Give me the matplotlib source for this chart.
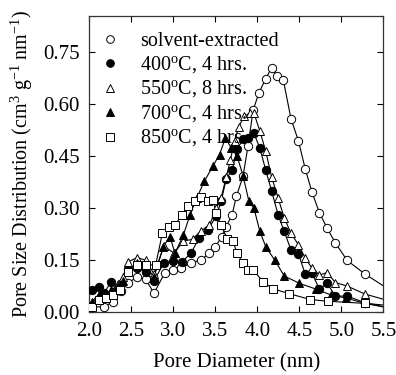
import matplotlib
matplotlib.use("Agg")
import matplotlib.pyplot as plt

plt.rcParams['font.family'] = ['Liberation Serif', 'DejaVu Serif']
plt.rcParams['mathtext.fontset'] = 'custom'
plt.rcParams['mathtext.rm'] = 'Liberation Serif'

# solvent-extracted (open circles)
x_se = [2.03, 2.18, 2.28, 2.38, 2.46, 2.57, 2.67, 2.77, 2.90, 3.00, 3.09, 3.21,
        3.33, 3.43, 3.50, 3.58, 3.63, 3.70, 3.75, 3.83, 3.89, 3.95, 4.02, 4.10,
        4.17, 4.24, 4.31, 4.40, 4.49, 4.57, 4.65, 4.74, 4.83, 4.93, 5.07, 5.28, 5.60]
y_se = [0.015, 0.015, 0.03, 0.06, 0.085, 0.100, 0.095, 0.054, 0.114, 0.12, 0.127, 0.141,
        0.151, 0.170, 0.189, 0.218, 0.247, 0.281, 0.334, 0.392, 0.481, 0.583, 0.634, 0.674,
        0.706, 0.682, 0.670, 0.559, 0.494, 0.414, 0.347, 0.286, 0.243, 0.199, 0.149, 0.110, 0.06]

# 400 C, 4 hrs (filled circles)
x_400 = [2.03, 2.11, 2.18, 2.26, 2.34, 2.38, 2.46, 2.57, 2.67, 2.77, 2.89, 3.00, 3.10,
         3.21, 3.31, 3.41, 3.51, 3.57, 3.63, 3.70, 3.76, 3.83, 3.89, 3.96, 4.03, 4.10,
         4.17, 4.25, 4.32, 4.40, 4.49, 4.57, 4.65, 4.74, 4.83, 4.93, 5.07, 5.28, 5.60]
y_400 = [0.065, 0.072, 0.056, 0.088, 0.069, 0.08, 0.125, 0.127, 0.117, 0.09, 0.143, 0.146, 0.144,
         0.17, 0.215, 0.238, 0.276, 0.32, 0.385, 0.41, 0.47, 0.50, 0.503, 0.516, 0.474, 0.41,
         0.35, 0.279, 0.233, 0.18, 0.168, 0.109, 0.112, 0.066, 0.083, 0.046, 0.046, 0.027, 0.01]

# 550 C, 8 hrs (open triangles)
x_550 = [2.03, 2.11, 2.18, 2.26, 2.34, 2.40, 2.46, 2.57, 2.67, 2.77, 2.89, 3.01, 3.12,
         3.23, 3.33, 3.43, 3.51, 3.57, 3.63, 3.68, 3.73, 3.78, 3.84, 3.91, 3.96, 4.03,
         4.10, 4.17, 4.25, 4.32, 4.40, 4.49, 4.57, 4.65, 4.74, 4.83, 4.93, 5.07, 5.28, 5.60]
y_550 = [0.025, 0.045, 0.05, 0.06, 0.08, 0.10, 0.145, 0.157, 0.150, 0.11, 0.19, 0.17, 0.205,
         0.21, 0.235, 0.25, 0.30, 0.33, 0.39, 0.44, 0.495, 0.535, 0.565, 0.575, 0.575, 0.523,
         0.465, 0.39, 0.328, 0.272, 0.228, 0.194, 0.156, 0.127, 0.107, 0.114, 0.085, 0.075, 0.052, 0.03]

# 700 C, 4 hrs (filled triangles)
x_700 = [2.03, 2.11, 2.18, 2.26, 2.34, 2.40, 2.46, 2.57, 2.67, 2.77, 2.88, 2.96, 3.02,
         3.12, 3.20, 3.28, 3.37, 3.47, 3.55, 3.62, 3.69, 3.76, 3.83, 3.90, 3.96, 4.03,
         4.10, 4.21, 4.32, 4.50, 4.70, 4.88, 5.06, 5.28, 5.60]
y_700 = [0.03, 0.05, 0.045, 0.065, 0.075, 0.09, 0.122, 0.141, 0.135, 0.10, 0.189, 0.218, 0.17,
         0.223, 0.281, 0.33, 0.378, 0.421, 0.455, 0.503, 0.474, 0.45, 0.394, 0.32, 0.30, 0.233,
         0.189, 0.149, 0.104, 0.083, 0.066, 0.049, 0.04, 0.025, 0.01]

# 850 C, 4 hrs (open squares)
x_850 = [2.03, 2.12, 2.20, 2.28, 2.36, 2.46, 2.57, 2.67, 2.79, 2.87, 2.95, 3.02, 3.10,
         3.18, 3.26, 3.33, 3.41, 3.47, 3.51, 3.57, 3.64, 3.71, 3.76, 3.83, 3.89, 3.95,
         4.07, 4.19, 4.38, 4.63, 4.84, 5.28, 5.60]
y_850 = [0.015, 0.035, 0.04, 0.05, 0.064, 0.117, 0.136, 0.136, 0.136, 0.228, 0.247, 0.25, 0.281,
         0.305, 0.32, 0.332, 0.32, 0.325, 0.286, 0.25, 0.212, 0.204, 0.17, 0.141, 0.122, 0.122,
         0.087, 0.067, 0.053, 0.036, 0.031, 0.025, 0.018]

labels = ['solvent-extracted', r'400$^{\rm o}$C, 4 hrs.', r'550$^{\rm o}$C, 8 hrs.',
          r'700$^{\rm o}$C, 4 hrs.', r'850$^{\rm o}$C, 4 hrs.']

fig = plt.figure(figsize=(3.96, 3.75), dpi=100)
ax = fig.add_axes([0.2255, 0.168, 0.7425, 0.789])

series = [
    (x_se, y_se, 'o', 'white'),
    (x_400, y_400, 'o', 'black'),
    (x_550, y_550, '^', 'white'),
    (x_700, y_700, '^', 'black'),
    (x_850, y_850, 's', 'white'),
]
handles = []
for (xs, ys, m, fc), lab in zip(series, labels):
    ax.plot(xs, ys, '-', color='black', lw=0.8, zorder=2)
    ax.plot(xs, ys, ls='none', marker=m, ms=6, mfc=fc, mec='black', mew=0.7, zorder=3)
    h, = ax.plot([], [], ls='none', marker=m, ms=5.5, mfc=fc, mec='black', mew=0.7)
    handles.append(h)

ax.set_xlim(2.0, 5.5)
ax.set_ylim(0, 0.855)
ax.set_xticks([2.0, 2.5, 3.0, 3.5, 4.0, 4.5, 5.0, 5.5])
ax.set_yticks([0.0, 0.15, 0.30, 0.45, 0.60, 0.75])
ax.set_xticklabels(['2.0', '2.5', '3.0', '3.5', '4.0', '4.5', '5.0', '5.5'])
ax.set_yticklabels(['0.00', '0.15', '0.30', '0.45', '0.60', '0.75'])
ax.tick_params(direction='in', top=True, right=True, length=4, width=0.8,
               labelsize=15, pad=7)
for s in ax.spines.values():
    s.set_linewidth(0.9)
    s.set_color('#333333')

ax.set_xlabel('Pore Diameter (nm)', fontsize=15, labelpad=9)
ax.set_ylabel(r'Pore Size Distribution (cm$^{3}$ g$^{-1}$ nm$^{-1}$)', fontsize=14.5, labelpad=6)

ax.legend(handles, labels, loc='upper left', frameon=False, fontsize=14.5,
          handlelength=1.0, handletextpad=1.0, labelspacing=0.15,
          borderaxespad=0, borderpad=0, bbox_to_anchor=(0.036, 0.947))

fig.savefig('out.png', dpi=100)
